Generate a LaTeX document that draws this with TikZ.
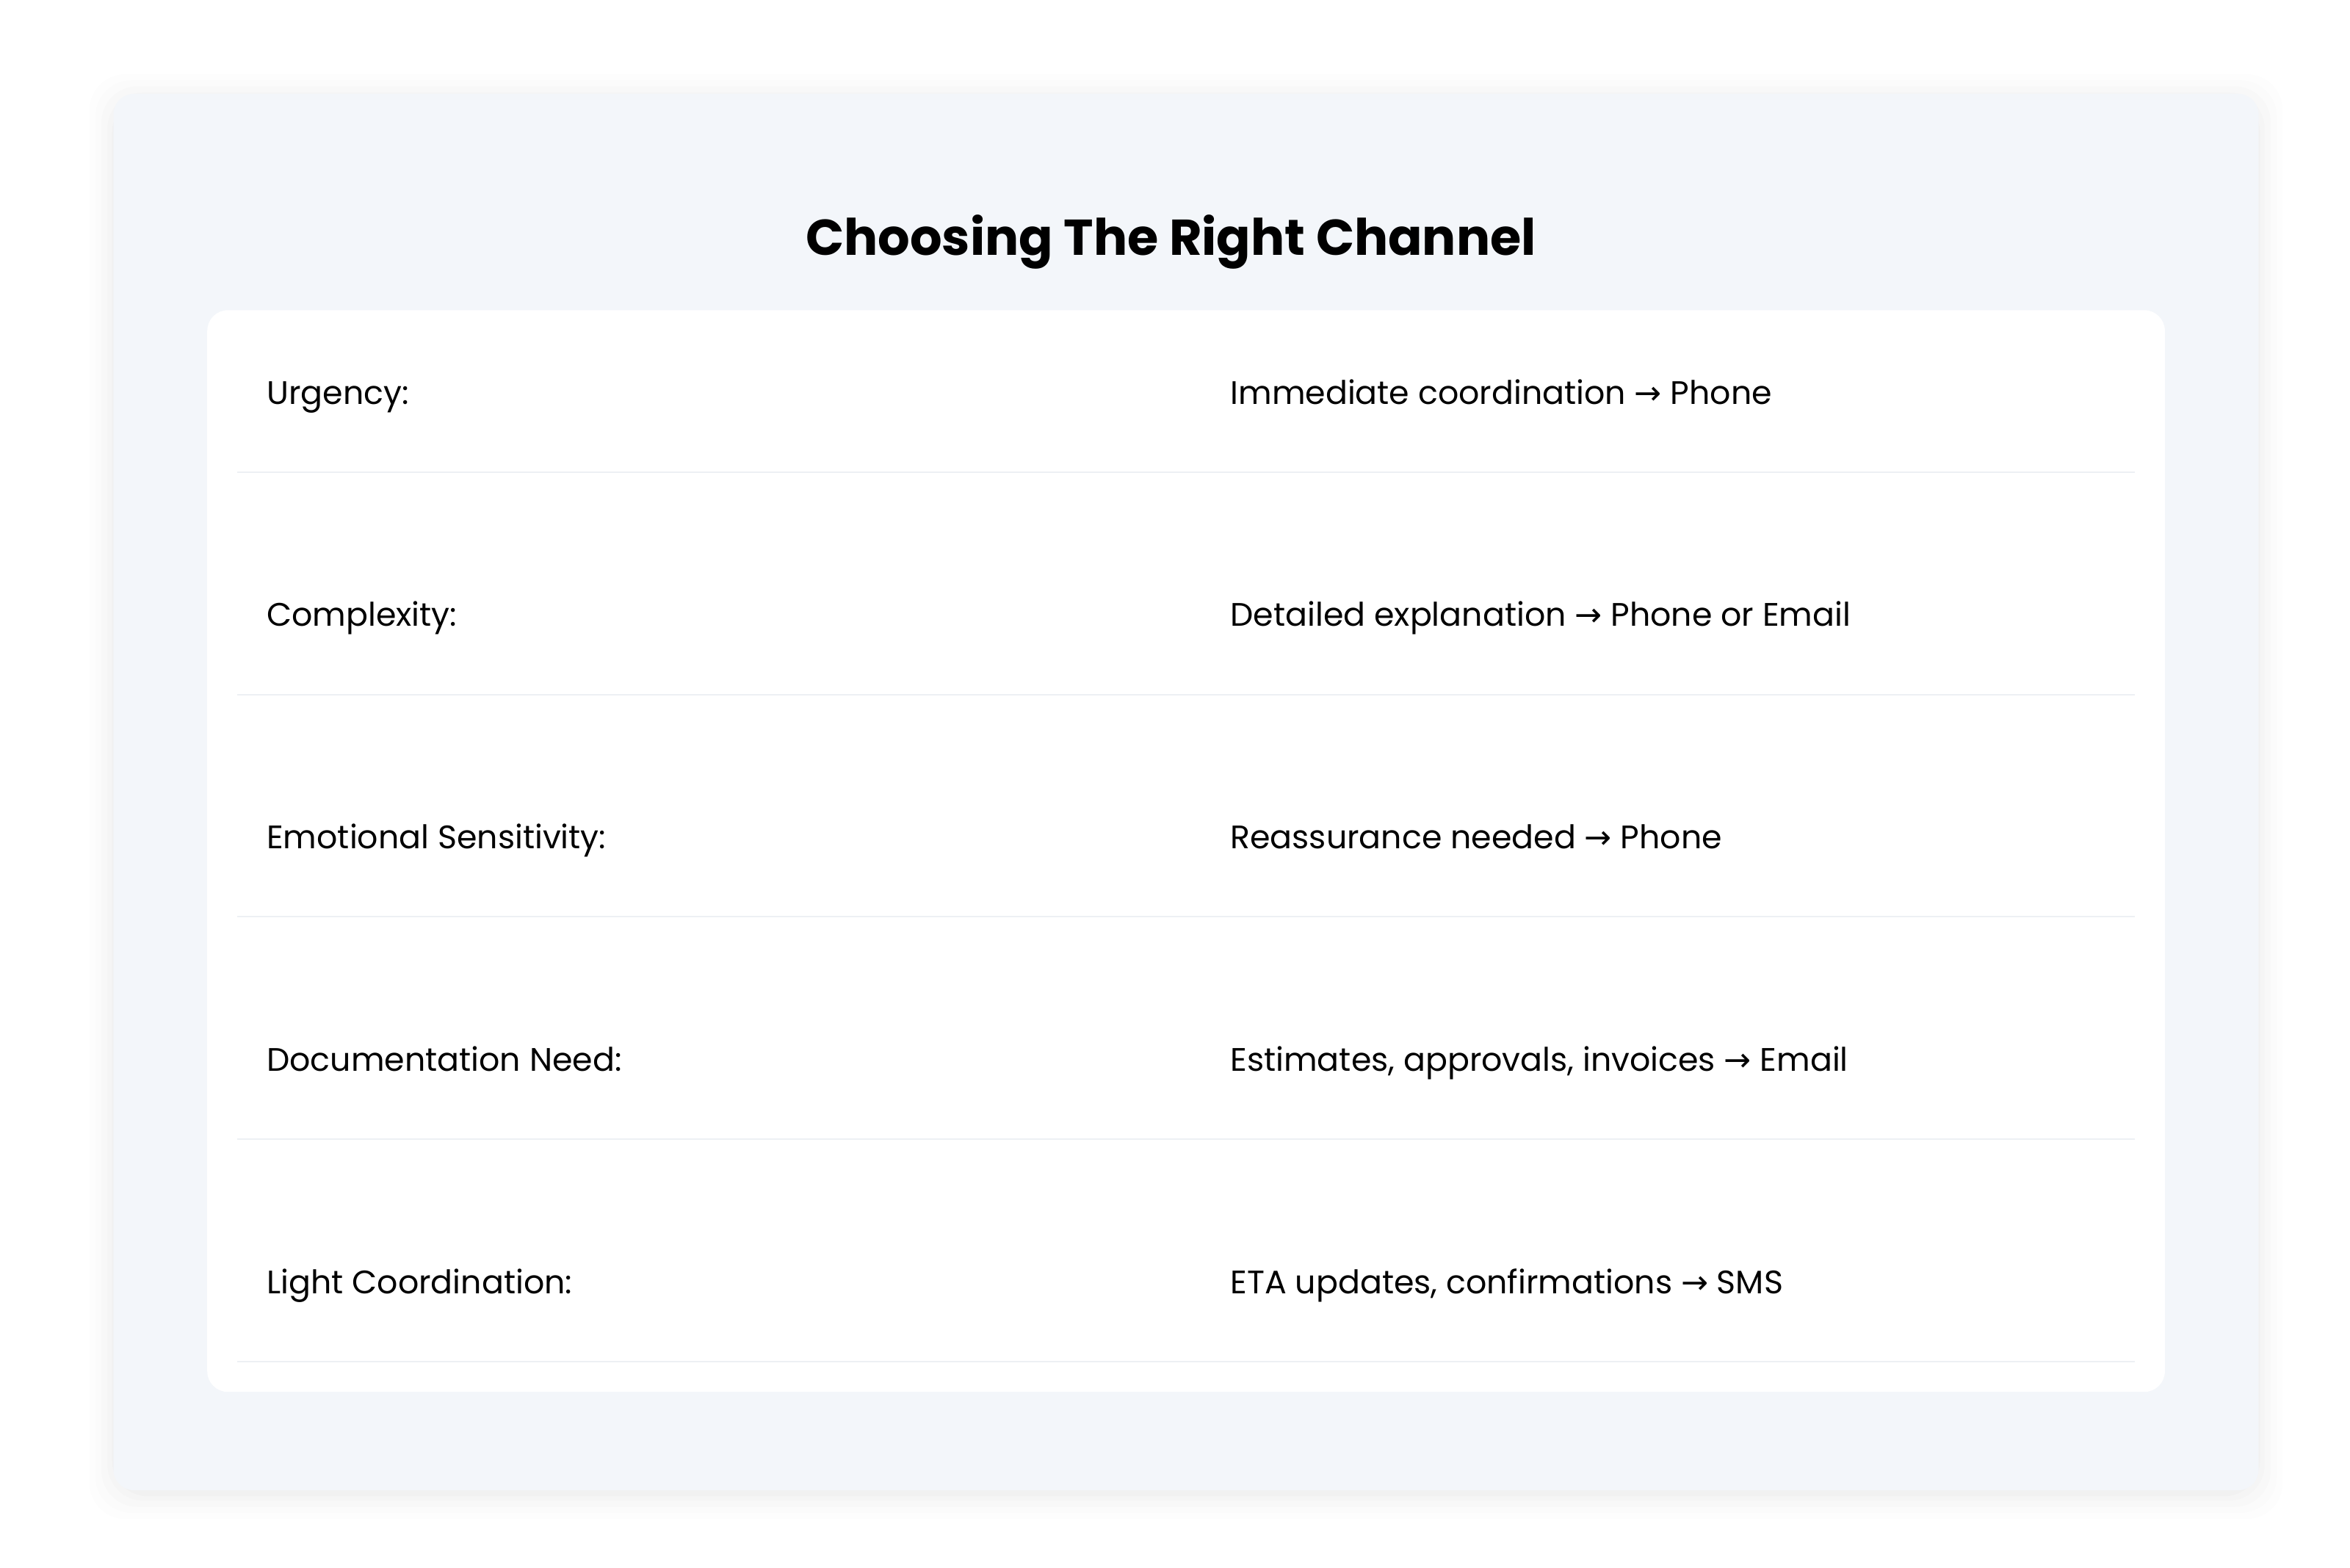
\documentclass[tikz,border=0pt]{standalone}
\usepackage{fontspec}
\setmainfont{Poppins}
\newfontfamily\arr{DejaVu Sans}
\definecolor{panel}{HTML}{F3F6FA}
\definecolor{sep}{HTML}{EDF0F4}
\newcommand{\ra}{{\arr →}}
\begin{document}
\begin{tikzpicture}[x=0.0206cm,y=-0.0206cm,
  lbl/.style={anchor=base west,font=\fontsize{12.6}{16}\selectfont,text=black,inner sep=0},
  sepline/.style={draw=sep,line width=0.6pt}]
\useasboundingbox (0,0) rectangle (1553.4,1036);
\fill[white] (0,0) rectangle (1553.4,1036);
\foreach \d/\o in {16/0.006,12/0.008,8/0.01,4/0.012,1/0.014}{
  \fill[black,opacity=\o,rounded corners=14] (75-\d,62-\d+3) rectangle (1493+\d,985+\d+3);
}
\fill[panel,rounded corners=8] (75,62) rectangle (1493,985);
\node[font=\fontsize{19.5}{24}\selectfont\bfseries] (title) at (774,160) {Choosing The Right Channel};
\fill[white,rounded corners=8] (137,205) rectangle (1431,920);
\foreach \y/\a/\b [count=\i] in {260/Urgency:/Immediate coordination \ra{} Phone,
  407/Complexity:/Detailed explanation \ra{} Phone or Email,
  554/Emotional Sensitivity:/Reassurance needed \ra{} Phone,
  701/Documentation Need:/{Estimates, approvals, invoices \ra{} Email},
  848/Light Coordination:/{ETA updates, confirmations \ra{} SMS}}{
  \node[lbl] (l\i) at (176,\y+7) {\a};
  \node[lbl] (r\i) at (813,\y+7) {\b};
  \draw[sepline] (157,\y+52) -- (1411,\y+52);
}
\end{tikzpicture}
\end{document}
